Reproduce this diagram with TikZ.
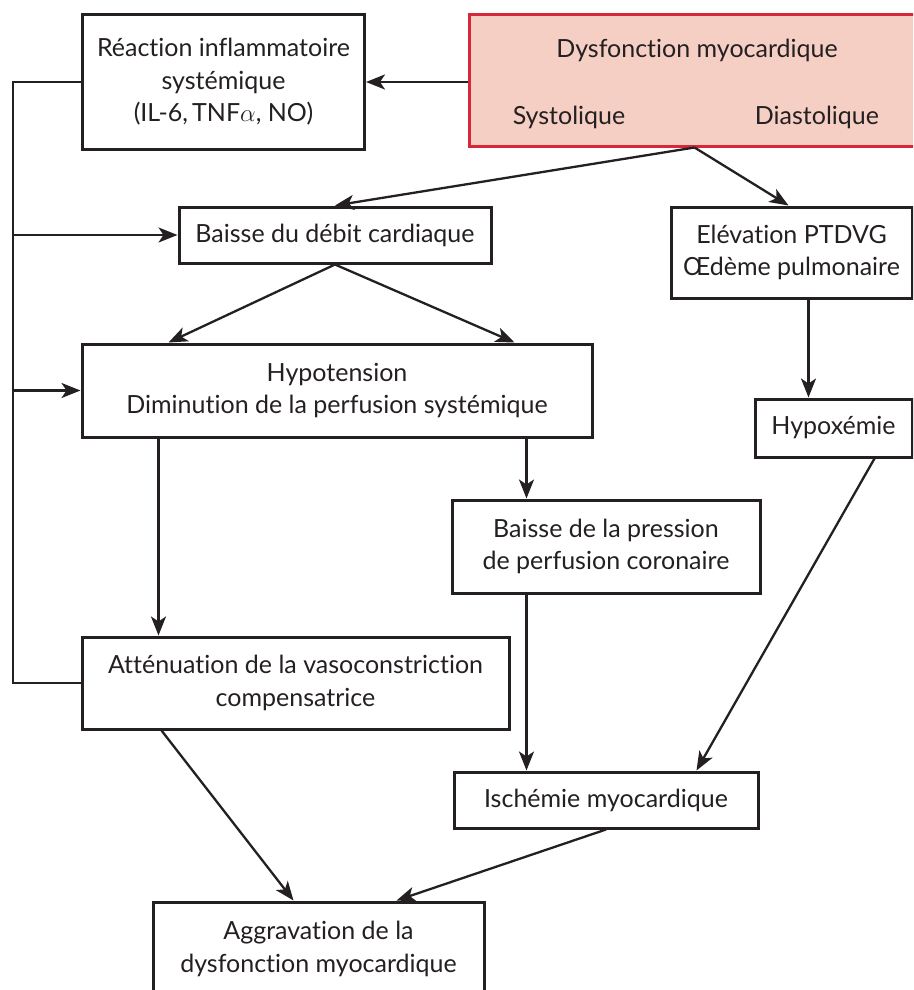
\documentclass[tikz,border=0pt]{standalone}
\usepackage{fontspec}
\setmainfont{Lato}[Ligatures=NoCommon]
\usetikzlibrary{arrows.meta,calc}

\definecolor{encre}{rgb}{0.14,0.12,0.13}
\definecolor{rosefond}{RGB}{246,207,196}
\definecolor{rougebord}{RGB}{215,40,58}

\tikzset{
  boite/.style={draw=encre, line width=3pt, align=center, inner sep=0pt, text=encre},
  lien/.style={draw=encre, line width=2.3pt},
  fleche/.style={lien, -{Stealth[length=19pt,width=15pt,inset=5pt]}}
}

\begin{document}
\begin{tikzpicture}[x=1pt,y=-1pt,font=\fontsize{25}{32.5}\selectfont]
        \useasboundingbox (0,0) rectangle (913,990);
        \clip (0,0) rectangle (913,990);

        \node[boite, minimum width=282pt, minimum height=135pt] (reac) at (223.5,82) {Réaction inflammatoire\\systémique\\(IL-6,\,TNF$\alpha$, NO)};
        \node[boite, draw=rougebord, fill=rosefond, minimum width=451pt, minimum height=131pt] (dysf) at (694.5,80.5) {};
        \node[text=encre] (dysftitre) at (697,50) {Dysfonction myocardique};
        \node[text=encre] (systo) at (569,117) {Systolique};
        \node[text=encre] (diasto) at (817,117) {Diastolique};
        \node[boite, minimum width=312pt, minimum height=56pt] (baisse) at (335,235) {Baisse du débit cardiaque};
        \node[boite, minimum width=241pt, minimum height=91pt] (elev) at (791.5,252.5) {Elévation PTDVG\\Œdème pulmonaire};
        \node[boite, minimum width=510pt, minimum height=93pt] (hypo) at (337,390.5) {Hypotension\\Diminution de la perfusion systémique};
        \node[boite, minimum width=157pt, minimum height=58pt] (hypox) at (833.5,428) {Hypoxémie};
        \node[boite, minimum width=308pt, minimum height=93pt] (press) at (606,546.5) {Baisse de la pression\\de perfusion coronaire};
        \node[boite, minimum width=427pt, minimum height=92pt] (atten) at (295.5,683) {Atténuation de la vasoconstriction\\compensatrice};
        \node[boite, minimum width=304pt, minimum height=56pt] (isch) at (606,800) {Ischémie myocardique};
        \node[boite, minimum width=331pt, minimum height=94pt] (aggrav) at (318.5,949) {Aggravation de la\\dysfonction myocardique};

        \coordinate (bushaut) at (13,82);
        \coordinate (busbas) at (13,683);

        \draw[fleche] (dysf.west |- reac.east) -- (reac.east);
        \draw[lien] (reac.west) -- (bushaut) -- (busbas) -- (atten.west);
        \draw[fleche] (bushaut |- baisse.west) -- (baisse.west);
        \draw[fleche] (bushaut |- hypo.west) -- (hypo.west);

        \draw[fleche] (dysf.south) -- (baisse.north);
        \draw[fleche] (dysf.south) -- ($(elev.north west)+(119,0)$);
        \draw[fleche] (baisse.south) -- ($(hypo.north west)+(88,0)$);
        \draw[fleche] (baisse.south) -- ($(hypo.north west)+(434,0)$);
        \draw[fleche] ($(hypo.south west)+(78,0)$) -- ($(atten.north west)+(78,0)$);
        \draw[fleche] ($(hypo.south west)+(446,0)$) -- ($(press.north west)+(76,0)$);
        \draw[fleche] ($(elev.south west)+(139,0)$) -- ($(hypox.north west)+(55,0)$);
        \draw[fleche] ($(hypox.south west)+(121,0)$) -- ($(isch.north west)+(244,0)$);
        \draw[fleche] ($(press.south west)+(76,0)$) -- ($(isch.north west)+(74,0)$);
        \draw[fleche] ($(atten.south west)+(81,0)$) -- ($(aggrav.north west)+(142,0)$);
        \draw[fleche] (isch.south) -- ($(aggrav.north west)+(245,0)$);
    \end{tikzpicture}
\end{document}
